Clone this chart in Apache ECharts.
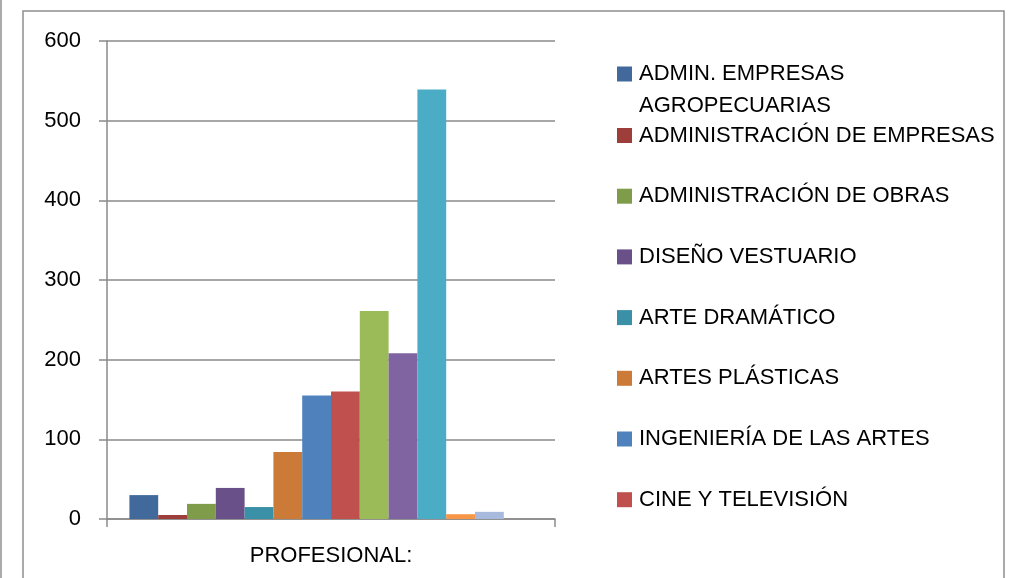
<!DOCTYPE html>
<html>
<head>
<meta charset="utf-8">
<script src="https://cdn.jsdelivr.net/npm/echarts@6/dist/echarts.min.js"></script>
<style>
html,body{margin:0;padding:0;background:#fff;}
#chart{width:1010px;height:578px;}
</style>
</head>
<body>
<div id="chart"></div>
<script>
var categories = ['PROFESIONAL:'];
var seriesNames = [
  'ADMIN. EMPRESAS AGROPECUARIAS',
  'ADMINISTRACIÓN DE EMPRESAS',
  'ADMINISTRACIÓN DE OBRAS',
  'DISEÑO VESTUARIO',
  'ARTE DRAMÁTICO',
  'ARTES PLÁSTICAS',
  'INGENIERÍA DE LAS ARTES',
  'CINE Y TELEVISIÓN',
  'Serie 9',
  'Serie 10',
  'Serie 11',
  'Serie 12',
  'Serie 13',
  'Serie 14'
];
var seriesValues = [30, 5, 19, 39, 15, 84, 155, 160, 261, 208, 539, 6, 9, 0];
var seriesColors = ['#41699C','#9E3E3B','#7F9C4A','#6A5088','#3A90A6','#CC7A37',
  '#4F81BD','#C0504D','#9BBB59','#8064A2','#4BACC6','#F79646','#A7B9DC','#D9A3A2'];
var yTicks = [0, 100, 200, 300, 400, 500, 600];

var FONT = 'Liberation Sans';
var chart = echarts.init(document.getElementById('chart'));

var series = seriesNames.map(function (n, i) {
  return {
    type: 'bar',
    name: n,
    data: [seriesValues[i]],
    barGap: '0%',
    barCategoryGap: '10%',
    itemStyle: { color: seriesColors[i] },
    silent: true
  };
});

var legendText = { color: '#000', fontFamily: FONT, fontSize: 22, lineHeight: 32, padding: [0, 0, 0, 2] };

chart.setOption({
  animation: false,
  backgroundColor: '#fff',
  textStyle: { fontFamily: FONT },
  grid: { left: 107, right: 455, top: 41, bottom: 59 },
  legend: [
    {
      orient: 'vertical', left: 617, top: 26, padding: 0,
      itemWidth: 15, itemHeight: 15, itemGap: 0, icon: 'rect',
      selectedMode: false,
      data: [seriesNames[0]],
      formatter: function () { return ' \nADMIN. EMPRESAS\nAGROPECUARIAS'; },
      textStyle: legendText
    },
    {
      orient: 'vertical', left: 617, top: 119.5, padding: 0,
      itemWidth: 15, itemHeight: 15, itemGap: 28.7, icon: 'rect',
      selectedMode: false,
      data: seriesNames.slice(1, 8),
      textStyle: legendText
    }
  ],
  xAxis: {
    type: 'category',
    data: categories,
    axisLine: { lineStyle: { color: '#8a8a8a', width: 1.5 } },
    axisTick: { show: true, length: 8, alignWithLabel: false, lineStyle: { color: '#8a8a8a', width: 1.5 } },
    axisLabel: { color: '#000', fontSize: 22, margin: 26, fontFamily: FONT }
  },
  yAxis: {
    type: 'value',
    min: 0, max: 600, interval: 100,
    axisLine: { show: true, lineStyle: { color: '#8a8a8a', width: 1.5 } },
    axisTick: { show: true, length: 8, lineStyle: { color: '#8a8a8a', width: 1.5 } },
    axisLabel: { color: '#000', fontSize: 22, margin: 26, fontFamily: FONT,
      formatter: function (v) { return yTicks.indexOf(v) >= 0 ? String(v) : ''; } },
    splitLine: { show: true, lineStyle: { color: '#8a8a8a', width: 1.5 } }
  },
  graphic: [
    { type: 'rect', shape: { x: 23, y: 11, width: 981, height: 620 },
      style: { fill: null, stroke: '#8f8f8f', lineWidth: 1.5 }, silent: true, z: -1 },
    { type: 'line', shape: { x1: 1, y1: 0, x2: 1, y2: 578 },
      style: { stroke: '#8f8f8f', lineWidth: 1.5 }, silent: true, z: -1 }
  ],
  series: series
});
</script>
</body>
</html>
